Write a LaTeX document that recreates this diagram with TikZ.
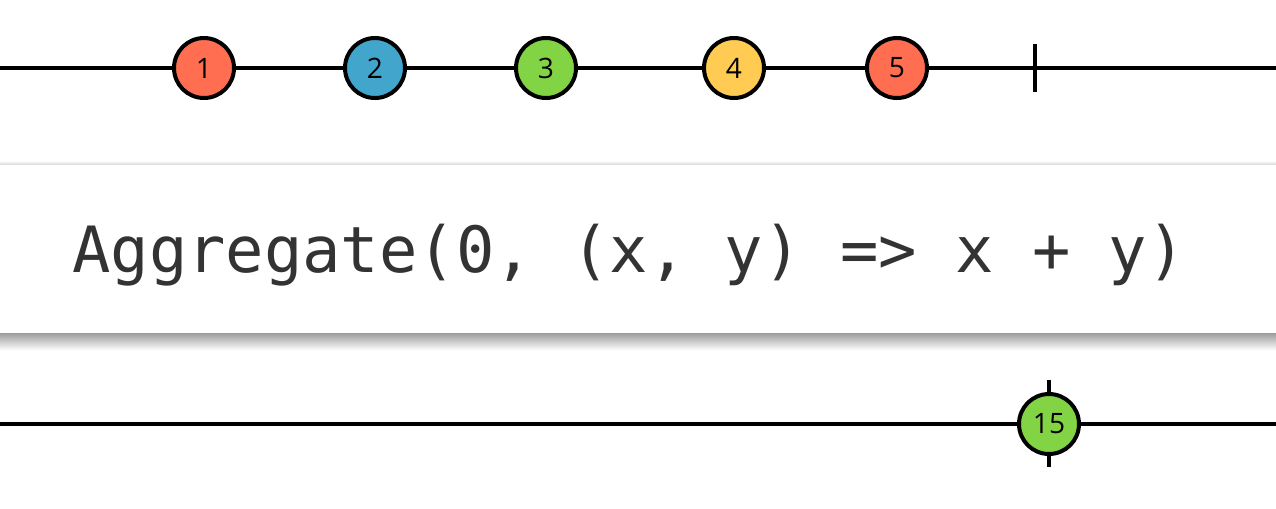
\documentclass[tikz,border=0pt]{standalone}
\usepackage{fontspec}
\setmainfont{Open Sans}
\setmonofont{DejaVu Sans Mono}
\usepackage{xcolor}
\usetikzlibrary{positioning}
\definecolor{mred}{HTML}{FF6E50}
\definecolor{mblue}{HTML}{42A5CB}
\definecolor{mgreen}{HTML}{82D444}
\definecolor{myellow}{HTML}{FFCB52}
\definecolor{optext}{HTML}{333333}

\begin{document}
\begin{tikzpicture}[x=0.02cm,y=-0.02cm,
      line/.style={line width=0.07cm},
      marble/.style={circle,draw,line width=0.08cm,minimum size=1.2cm,inner sep=0pt,font=\fontsize{16}{19}\selectfont},
      opbox/.style={fill=white,minimum width=26cm,minimum height=3.36cm,inner sep=0pt},
      optxt/.style={font=\ttfamily\fontsize{36.3}{40}\selectfont,text=optext}
]
\useasboundingbox (0,0) rectangle (1276,508);

% input stream
\coordinate (inL) at (0,68);
\coordinate (inR) at (1276,68);
\coordinate (doneT) at (1035,44);
\coordinate (doneB) at (1035,92);
\draw[line] (inL) -- (inR);
\draw[line] (doneT) -- (doneB);
\foreach \x/\n/\c in {204/1/mred,375/2/mblue,546/3/mgreen,734/4/myellow,897/5/mred} {
      \node[marble,fill=\c] (in\n) at (\x,68) {\n};
}

% operator box
\node[opbox] (op) at (638,249) {};
\shade[top color=black!38,bottom color=white] (op.south west) rectangle ++(1400,17);
\shade[top color=white,bottom color=black!15] (op.north west) ++(0,-4) rectangle ++(1400,4);
\node[optxt,anchor=base] (optext) at (629,272) {Aggregate(0, (x, y) => x + y)};

% output stream
\coordinate (outL) at (0,424);
\coordinate (outR) at (1276,424);
\coordinate (outT) at (1049,380);
\coordinate (outB) at (1049,467);
\draw[line] (outL) -- (outR);
\draw[line] (outT) -- (outB);
\node[marble,fill=mgreen] (out15) at (1049,424) {15};
\end{tikzpicture}
\end{document}
